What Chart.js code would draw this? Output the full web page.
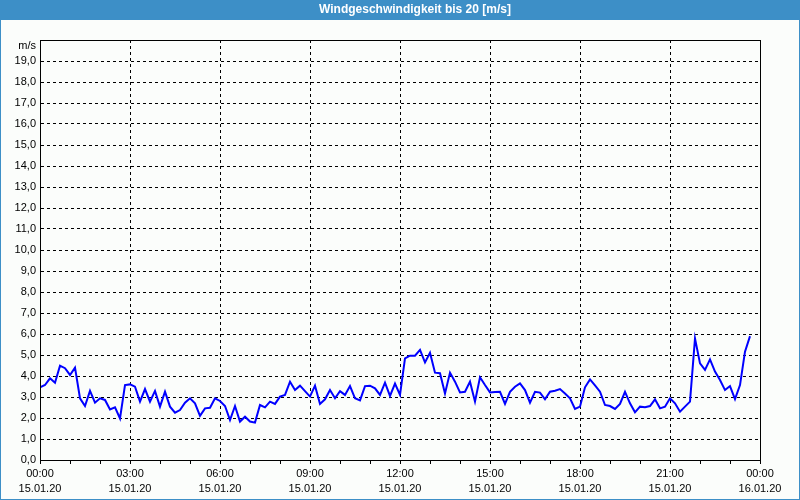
<!DOCTYPE html>
<html>
<head>
<meta charset="utf-8">
<script src="https://cdn.jsdelivr.net/npm/chart.js@4"></script>
<style>
  html, body { margin: 0; padding: 0; background: #fbfdfb; }
  #wrap { width: 800px; height: 500px; }
</style>
</head>
<body>
<div id="wrap"><canvas id="windChart" width="800" height="500"></canvas></div>
<script>
// Wind speed, 10-minute values from 15.01.20 00:00 (m/s)
const windSpeed = [
  3.46, 3.57, 3.89, 3.68, 4.49, 4.37, 4.05, 4.40, 2.94, 2.57,
  3.29, 2.73, 2.94, 2.86, 2.41, 2.51, 1.98, 3.57, 3.60, 3.49,
  2.78, 3.38, 2.78, 3.29, 2.54, 3.25, 2.54, 2.25, 2.38, 2.73,
  2.94, 2.70, 2.10, 2.46, 2.49, 2.94, 2.81, 2.57, 1.90, 2.57,
  1.83, 2.06, 1.83, 1.78, 2.62, 2.51, 2.78, 2.67, 3.02, 3.10,
  3.73, 3.33, 3.54, 3.28, 3.02, 3.54, 2.67, 2.89, 3.33, 2.94,
  3.28, 3.10, 3.52, 2.94, 2.84, 3.52, 3.54, 3.41, 3.10, 3.68,
  3.05, 3.64, 3.10, 4.84, 4.97, 4.97, 5.24, 4.65, 5.11, 4.16,
  4.13, 3.17, 4.16, 3.73, 3.22, 3.25, 3.73, 2.78, 3.94, 3.57,
  3.22, 3.24, 3.25, 2.67, 3.25, 3.49, 3.65, 3.33, 2.73, 3.25,
  3.21, 2.89, 3.25, 3.30, 3.38, 3.17, 2.94, 2.43, 2.54, 3.46,
  3.84, 3.55, 3.25, 2.62, 2.57, 2.43, 2.67, 3.25, 2.70, 2.27,
  2.54, 2.51, 2.57, 2.89, 2.46, 2.54, 2.94, 2.70, 2.30, 2.54,
  2.78, 5.79, 4.60, 4.29, 4.79, 4.21, 3.81, 3.33, 3.52, 2.90,
  3.57, 5.16, 5.90
];
const stepHours = 1 / 6;

// x tick labels every 3 hours
const timeLabels = ['00:00', '03:00', '06:00', '09:00', '12:00', '15:00', '18:00', '21:00', '00:00'];
const dateLabels = ['15.01.20', '15.01.20', '15.01.20', '15.01.20', '15.01.20', '15.01.20', '15.01.20', '15.01.20', '16.01.20'];

const titleText = 'Windgeschwindigkeit bis 20 [m/s]';
const unitText = 'm/s';

const font = { family: '"Liberation Sans", Arial, sans-serif', size: 11 };

// frame, title bar and plot box
const framePlugin = {
  id: 'frame',
  beforeDraw(chart) {
    const ctx = chart.ctx;
    ctx.save();
    ctx.fillStyle = '#fbfdfb';
    ctx.fillRect(0, 0, 800, 500);
    ctx.fillStyle = '#3d8fc7';
    ctx.fillRect(0, 0, 800, 20);
    ctx.strokeStyle = '#3d8fc7';
    ctx.lineWidth = 1;
    ctx.strokeRect(0.5, 0.5, 799, 499);
    ctx.fillStyle = '#ffffff';
    ctx.font = 'bold 12px "Liberation Sans", Arial, sans-serif';
    ctx.textAlign = 'center';
    ctx.textBaseline = 'middle';
    ctx.fillText(titleText, 415, 10);
    ctx.restore();
  },
  afterDraw(chart) {
    const ctx = chart.ctx;
    const a = chart.chartArea;
    ctx.save();
    ctx.strokeStyle = '#000';
    ctx.lineWidth = 1;
    ctx.setLineDash([]);
    ctx.strokeRect(Math.round(a.left) + 0.5, Math.round(a.top) + 0.5,
      Math.round(a.right - a.left), Math.round(a.bottom - a.top));
    ctx.fillStyle = '#000';
    ctx.font = '11px "Liberation Sans", Arial, sans-serif';
    ctx.textAlign = 'right';
    ctx.textBaseline = 'middle';
    ctx.fillText(unitText, a.left - 4, a.top + 6);
    ctx.restore();
  }
};

const points = windSpeed.map((v, i) => ({ x: i * stepHours, y: v }));

new Chart(document.getElementById('windChart'), {
  type: 'line',
  data: {
    datasets: [{
      data: points,
      borderColor: '#0000ff',
      borderWidth: 2,
      pointRadius: 0,
      tension: 0,
      fill: false
    }]
  },
  options: {
    responsive: false,
    devicePixelRatio: 1,
    animation: false,
    layout: { padding: { left: 0, top: 40, right: 40, bottom: 0 } },
    plugins: {
      legend: { display: false },
      title: { display: false },
      tooltip: { enabled: false }
    },
    scales: {
      x: {
        type: 'linear',
        min: 0,
        max: 24,
        ticks: {
          stepSize: 1,
          autoSkip: false,
          maxRotation: 0,
          padding: 3,
          color: '#000',
          font: { ...font, lineHeight: 1.35 },
          callback: v => (v % 3 === 0) ? [timeLabels[v / 3], dateLabels[v / 3]] : ''
        },
        grid: {
          color: c => (c.tick && c.tick.value % 3 === 0) ? '#000' : 'rgba(0,0,0,0)',
          tickColor: '#000',
          tickLength: 4,
          lineWidth: 1
        },
        border: { color: '#000', dash: [3, 3] },
        afterFit: s => { s.height = 40; }
      },
      y: {
        min: 0,
        max: 20,
        ticks: {
          stepSize: 1,
          padding: 4,
          color: '#000',
          font: font,
          callback: v => v === 20 ? '' : v.toFixed(1).replace('.', ',')
        },
        grid: {
          drawTicks: false,
          color: c => (c.tick && (c.tick.value === 0 || c.tick.value === 20)) ? 'rgba(0,0,0,0)' : '#000',
          lineWidth: 1
        },
        border: { color: '#000', dash: [3, 3] },
        afterFit: s => { s.width = 40; }
      }
    }
  },
  plugins: [framePlugin]
});
</script>
</body>
</html>
